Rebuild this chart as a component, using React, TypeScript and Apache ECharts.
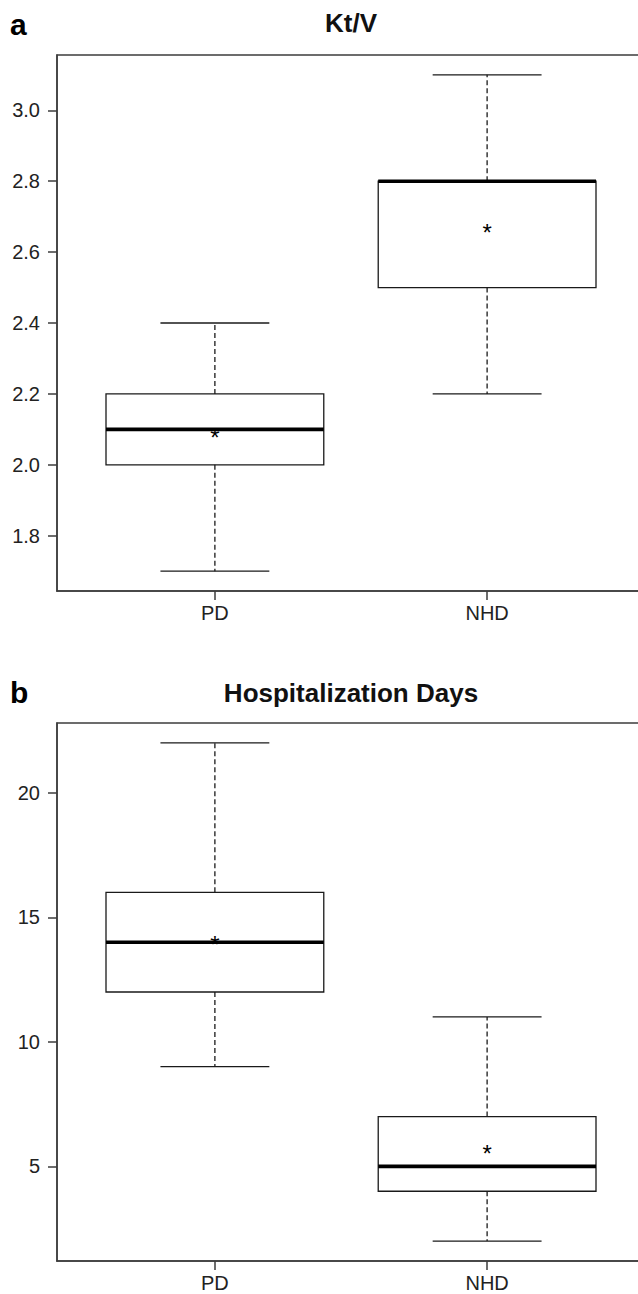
import React, { useEffect, useRef } from "react";
import * as echarts from "echarts";

const categories = ["PD", "NHD"];
const categoryPositions = [1, 2];

// [min, Q1, median, Q3, max]
const ktvStats = [
  [1.7, 2.0, 2.1, 2.2, 2.4],
  [2.2, 2.5, 2.8, 2.8, 3.1],
];
const ktvMeans = [2.09, 2.67];
const ktvTicks = [1.8, 2.0, 2.2, 2.4, 2.6, 2.8, 3.0];

const hospStats = [
  [9, 12, 14, 16, 22],
  [2, 4, 5, 7, 11],
];
const hospMeans = [14.1, 5.7];
const hospTicks = [5, 10, 15, 20];

const panelLetters = ["a", "b"];
const panelTitles = ["Kt/V", "Hospitalization Days"];

const FONT = "'Liberation Sans', Arial, Helvetica, sans-serif";
const BOX_COLOR = "#1a1a1a";
const FRAME_COLOR = "#3c3c3c";

function extRange(stats: number[][]) {
  let lo = Infinity;
  let hi = -Infinity;
  stats.forEach((s) => {
    lo = Math.min(lo, s[0]);
    hi = Math.max(hi, s[4]);
  });
  const pad = (hi - lo) * 0.04;
  return [lo - pad, hi + pad];
}

function boxRenderItem(params: any, api: any) {
  const x = api.value(0);
  const pMin = api.coord([x, api.value(1)]);
  const pQ1 = api.coord([x, api.value(2)]);
  const pMed = api.coord([x, api.value(3)]);
  const pQ3 = api.coord([x, api.value(4)]);
  const pMax = api.coord([x, api.value(5)]);
  const boxW = api.size([0.8, 0])[0];
  const capW = api.size([0.4, 0])[0];
  const cx = pMed[0];
  const thin = { stroke: BOX_COLOR, lineWidth: 1.3, fill: "none" };
  const dashed = { stroke: BOX_COLOR, lineWidth: 1.3, lineDash: [5, 3] };
  return {
    type: "group",
    children: [
      { type: "line", shape: { x1: cx, y1: pQ1[1], x2: cx, y2: pMin[1] }, style: dashed },
      { type: "line", shape: { x1: cx, y1: pQ3[1], x2: cx, y2: pMax[1] }, style: dashed },
      { type: "line", shape: { x1: cx - capW / 2, y1: pMin[1], x2: cx + capW / 2, y2: pMin[1] }, style: thin },
      { type: "line", shape: { x1: cx - capW / 2, y1: pMax[1], x2: cx + capW / 2, y2: pMax[1] }, style: thin },
      {
        type: "rect",
        shape: { x: cx - boxW / 2, y: pQ3[1], width: boxW, height: pQ1[1] - pQ3[1] },
        style: { stroke: BOX_COLOR, lineWidth: 1.3, fill: "rgba(0,0,0,0)" },
      },
      {
        type: "line",
        shape: { x1: cx - boxW / 2, y1: pMed[1], x2: cx + boxW / 2, y2: pMed[1] },
        style: { stroke: "#000", lineWidth: 3.6 },
      },
    ],
  };
}

function meanRenderItem(params: any, api: any) {
  const p = api.coord([api.value(0), api.value(1)]);
  return {
    type: "text",
    x: p[0],
    y: p[1] + 5,
    style: {
      text: "*",
      fontSize: 24,
      fontFamily: FONT,
      fill: "#000",
      align: "center",
      verticalAlign: "middle",
    },
  };
}

export default function App() {
  const ref = useRef<HTMLDivElement>(null);

  useEffect(() => {
    if (!ref.current) return;
    const chart = echarts.init(ref.current, null, { renderer: "svg" });

    const grids = [
      { left: 57, top: 55, width: 588, height: 536 },
      { left: 57, top: 723, width: 588, height: 538 },
    ];
    const statsList = [ktvStats, hospStats];
    const meansList = [ktvMeans, hospMeans];
    const tickList = [ktvTicks, hospTicks];
    const fmtList = [(v: number) => v.toFixed(1), (v: number) => String(v)];

    const axisLineStyle = { color: FRAME_COLOR, width: 1.5 };

    const xAxis = grids.map((_, i) => ({
      type: "value",
      gridIndex: i,
      min: 0.42,
      max: 2.58,
      axisLine: { show: true, onZero: false, lineStyle: axisLineStyle },
      axisTick: { show: true, length: 9, customValues: categoryPositions, lineStyle: axisLineStyle },
      axisLabel: {
        show: true,
        customValues: categoryPositions,
        formatter: (v: number) => categories[Math.round(v) - 1] || "",
        fontSize: 20,
        fontFamily: FONT,
        color: "#222",
        margin: 12,
      },
      splitLine: { show: false },
    }));

    const yAxis = grids.map((_, i) => {
      const r = extRange(statsList[i]);
      return {
        type: "value",
        gridIndex: i,
        min: r[0],
        max: r[1],
        axisLine: { show: true, onZero: false, lineStyle: axisLineStyle },
        axisTick: { show: true, length: 9, customValues: tickList[i], lineStyle: axisLineStyle },
        axisLabel: {
          show: true,
          customValues: tickList[i],
          formatter: fmtList[i],
          fontSize: 20,
          fontFamily: FONT,
          color: "#222",
          margin: 17,
        },
        splitLine: { show: false },
      };
    });

    const series: any[] = [];
    grids.forEach((_, i) => {
      series.push({
        type: "custom",
        xAxisIndex: i,
        yAxisIndex: i,
        renderItem: boxRenderItem,
        encode: { x: 0, y: [1, 2, 3, 4, 5] },
        data: statsList[i].map((s, k) => [categoryPositions[k], ...s]),
        clip: false,
      });
      series.push({
        type: "custom",
        xAxisIndex: i,
        yAxisIndex: i,
        renderItem: meanRenderItem,
        encode: { x: 0, y: 1 },
        data: meansList[i].map((m, k) => [categoryPositions[k], m]),
        clip: false,
      });
    });

    const graphic: any[] = [];
    const titleY = [22.5, 692.5];
    const letterY = [24.6, 692.6];
    grids.forEach((g, i) => {
      graphic.push({
        type: "text",
        x: 10,
        y: letterY[i],
        style: {
          text: panelLetters[i],
          fontSize: 30,
          fontWeight: "bold",
          fontFamily: FONT,
          fill: "#000",
          align: "left",
          verticalAlign: "middle",
        },
      });
      graphic.push({
        type: "text",
        x: g.left + g.width / 2,
        y: titleY[i],
        style: {
          text: panelTitles[i],
          fontSize: 26,
          fontWeight: "bold",
          fontFamily: FONT,
          fill: "#111",
          align: "center",
          verticalAlign: "middle",
        },
      });
    });

    chart.setOption({
      animation: false,
      backgroundColor: "#fff",
      grid: grids.map((g) => ({
        ...g,
        show: true,
        borderColor: FRAME_COLOR,
        borderWidth: 1.5,
        backgroundColor: "rgba(0,0,0,0)",
        containLabel: false,
      })),
      xAxis,
      yAxis,
      series,
      graphic,
    });

    return () => chart.dispose();
  }, []);

  return (
    <div
      style={{
        position: "absolute",
        left: 0,
        top: 0,
        width: 638,
        height: 1294,
        overflow: "hidden",
        background: "#fff",
      }}
    >
      <div ref={ref} style={{ width: 680, height: 1294, background: "#fff" }} />
    </div>
  );
}
